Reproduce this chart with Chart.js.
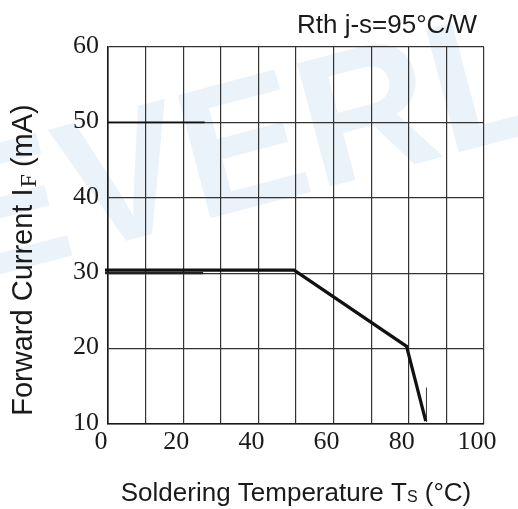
<!DOCTYPE html>
<html>
<head>
<meta charset="utf-8">
<script src="https://cdn.jsdelivr.net/npm/chart.js@4.4.1/dist/chart.umd.min.js"></script>
<style>
html,body{margin:0;padding:0;background:#fff;}
#wrap{width:518px;height:509px;position:relative;}
</style>
</head>
<body>
<div id="wrap"><canvas id="c" width="518" height="509"></canvas></div>
<script>
// ---- data ----
const xTicks = [0, 20, 40, 60, 80, 100];
const yTicks = [10, 20, 30, 40, 50, 60];
const curveT = [-0.8, 49.5, 79.4, 84.5];        // soldering temperature (°C)
const curveI = [30.4, 30.4, 20.3, 10.4];        // forward current (mA)
const echoT = [-0.8, 25.3];                      // short doubled trace near 30 mA
const echoI = [30.0, 30.0];
const markT = [84.7, 84.7];                      // thin vertical marker
const markI = [14.8, 10.3];
const gridEchoT = [0, 25.7];                     // darker piece of the 50 mA grid line
const gridEchoI = [50, 50];
const noteText = 'Rth j-s=95°C/W';
const xTitleMain = 'Soldering Temperature T';
const xTitleSub = 'S';
const xTitleTail = ' (°C)';
const yTitleMain = 'Forward Current I';
const yTitleSub = 'F';
const yTitleTail = ' (mA)';
const watermark = 'EVERL';

const pts = (xs, ys) => xs.map((x, i) => ({x: x, y: ys[i]}));

const SANS = '"Liberation Sans", Arial, sans-serif';
const SERIF = '"Liberation Serif", "Times New Roman", serif';

const decor = {
  id: 'decor',
  beforeDraw(chart) {
    const ctx = chart.ctx;
    ctx.save();
    ctx.fillStyle = 'rgba(175,205,235,0.26)';
    ctx.font = 'bold 185px ' + SANS;
    ctx.translate(-40, 285);
    ctx.rotate(-0.26);
    ctx.textBaseline = 'alphabetic';
    ctx.fillText(watermark, 0, 0);
    ctx.restore();
  },
  afterDraw(chart) {
    const ctx = chart.ctx;
    const a = chart.chartArea;
    ctx.save();
    ctx.fillStyle = '#1a1a1a';
    ctx.textBaseline = 'alphabetic';
    ctx.textAlign = 'left';
    // note top right
    ctx.font = '26px ' + SANS;
    ctx.fillText(noteText, 297, 33);

    // x title
    const fMain = '26px ' + SANS, fSub = '16px ' + SANS;
    ctx.font = fMain;
    const w1 = ctx.measureText(xTitleMain).width;
    const w3 = ctx.measureText(xTitleTail).width;
    ctx.font = fSub;
    const w2 = ctx.measureText(xTitleSub).width;
    const total = w1 + w2 + w3;
    const x0 = (a.left + a.right) / 2 - total / 2;
    const by = 501;
    ctx.font = fMain; ctx.fillText(xTitleMain, x0, by);
    ctx.font = fSub; ctx.fillText(xTitleSub, x0 + w1, by + 1);
    ctx.font = fMain; ctx.fillText(xTitleTail, x0 + w1 + w2, by);

    // y title (rotated)
    const fMainY = '29px ' + SANS, fSubY = '24px ' + SERIF;
    ctx.font = fMainY;
    const v1 = ctx.measureText(yTitleMain).width;
    const v3 = ctx.measureText(yTitleTail).width;
    ctx.font = fSubY;
    const v2 = ctx.measureText(yTitleSub).width;
    const vt = v1 + v2 + v3;
    ctx.translate(32, 260);
    ctx.rotate(-Math.PI / 2);
    const s = -vt / 2;
    ctx.font = fMainY; ctx.fillText(yTitleMain, s, 0);
    ctx.font = fSubY; ctx.fillText(yTitleSub, s + v1 + 1, 4);
    ctx.font = fMainY; ctx.fillText(yTitleTail, s + v1 + v2, 0);
    ctx.restore();
  }
};

new Chart(document.getElementById('c'), {
  type: 'scatter',
  data: {
    datasets: [
      {data: pts(gridEchoT, gridEchoI), showLine: true, borderColor: '#111', borderWidth: 1.6, pointRadius: 0, clip: false},
      {data: pts(echoT, echoI), showLine: true, borderColor: '#222', borderWidth: 2.2, pointRadius: 0, clip: false},
      {data: pts(curveT, curveI), showLine: true, borderColor: '#111', borderWidth: 3.2, pointRadius: 0, clip: false, borderJoinStyle: 'miter'},
      {data: pts(markT, markI), showLine: true, borderColor: '#444', borderWidth: 1, pointRadius: 0, clip: false}
    ]
  },
  options: {
    responsive: false,
    animation: false,
    events: [],
    layout: {padding: {top: 47, right: 34, left: 0, bottom: 0}},
    plugins: {legend: {display: false}, tooltip: {enabled: false}, title: {display: false}},
    scales: {
      x: {
        type: 'linear', min: 0, max: 100,
        afterFit: s => { s.height = 85; },
        border: {display: true, color: '#1a1a1a', width: 1.6},
        grid: {color: '#333', lineWidth: 1.2, drawTicks: false},
        ticks: {
          stepSize: 10, padding: 3, labelOffset: -7, maxRotation: 0, autoSkip: false,
          color: '#1a1a1a', font: {family: SERIF, size: 26},
          callback: v => xTicks.includes(v) ? String(v) : ''
        }
      },
      y: {
        type: 'linear', min: 10, max: 60,
        afterFit: s => { s.width = 108; },
        border: {display: true, color: '#1a1a1a', width: 1.6},
        grid: {color: '#333', lineWidth: 1.2, drawTicks: false},
        ticks: {
          stepSize: 10, padding: 9, labelOffset: -1,
          color: '#1a1a1a', font: {family: SERIF, size: 26},
          callback: v => yTicks.includes(v) ? String(v) : ''
        }
      }
    }
  },
  plugins: [decor]
});
</script>
</body>
</html>
